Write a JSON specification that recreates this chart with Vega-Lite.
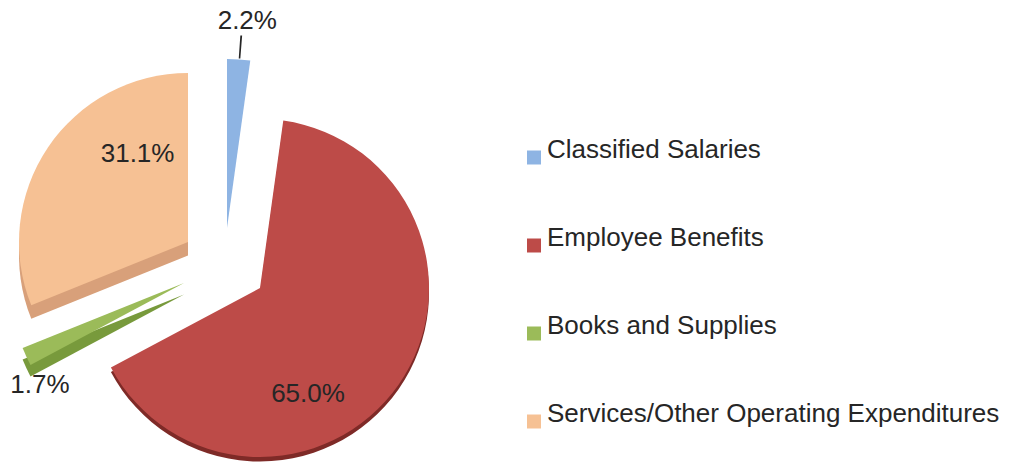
{
  "$schema": "https://vega.github.io/schema/vega-lite/v6.json",
  "width": 460,
  "height": 465,
  "autosize": {"type": "pad"},
  "padding": 0,
  "background": "white",
  "config": {"view": {"stroke": null}, "font": "Liberation Sans"},
  "data": {
    "values": [
      {"category": "Classified Salaries", "pct": 2.2, "order": 1},
      {"category": "Employee Benefits", "pct": 65.0, "order": 2},
      {"category": "Books and Supplies", "pct": 1.7, "order": 3},
      {"category": "Services/Other Operating Expenditures", "pct": 31.1, "order": 4}
    ]
  },
  "transform": [
    {"stack": "pct", "groupby": [], "sort": [{"field": "order", "order": "ascending"}], "as": ["start", "end"]},
    {"calculate": "(datum.start + datum.end) / 2", "as": "mid"},
    {"calculate": "datum.mid + 0.15", "as": "mid2"},
    {"calculate": "format(datum.pct, '.1f') + '%'", "as": "label"}
  ],
  "layer": [
    {
      "transform": [{"filter": "datum.category === 'Employee Benefits'"}],
      "mark": {"type": "arc", "radius": 169, "color": "#7E2A27", "xOffset": 30, "yOffset": 60},
      "encoding": {
        "theta": {"field": "start", "type": "quantitative", "scale": {"domain": [0, 100], "range": [0, 6.283185307179586]}},
        "theta2": {"field": "end"}
      }
    },
    {
      "transform": [{"filter": "datum.category === 'Services/Other Operating Expenditures'"}],
      "mark": {"type": "arc", "radius": 169, "color": "#D8A07A", "xOffset": -42, "yOffset": 23},
      "encoding": {
        "theta": {"field": "start", "type": "quantitative", "scale": {"domain": [0, 100], "range": [0, 6.283185307179586]}},
        "theta2": {"field": "end"}
      }
    },
    {
      "transform": [{"filter": "datum.category === 'Books and Supplies'"}],
      "mark": {"type": "arc", "radius": 174, "color": "#789A3C", "xOffset": -46, "yOffset": 62},
      "encoding": {
        "theta": {"field": "start", "type": "quantitative", "scale": {"domain": [0, 100], "range": [0, 6.283185307179586]}},
        "theta2": {"field": "end"}
      }
    },
    {
      "transform": [{"filter": "datum.category === 'Classified Salaries'"}],
      "mark": {"type": "arc", "radius": 169, "xOffset": -3, "yOffset": -4.5},
      "encoding": {
        "theta": {"field": "start", "type": "quantitative", "scale": {"domain": [0, 100], "range": [0, 6.283185307179586]}},
        "theta2": {"field": "end"},
        "color": {
          "field": "category", "type": "nominal",
          "scale": {"domain": ["Classified Salaries", "Employee Benefits", "Books and Supplies", "Services/Other Operating Expenditures"], "range": ["#8EB4E3", "#BD4B48", "#9BBB59", "#F6C194"]},
          "legend": {"title": null, "orient": "none", "legendX": 521, "legendY": 144.5, "padding": 0, "symbolType": "square", "symbolSize": 196, "symbolStrokeWidth": 0, "symbolOpacity": 1, "labelFontSize": 26, "labelFont": "Liberation Sans", "labelColor": "#262626", "labelOffset": 0, "labelLimit": 600, "rowPadding": 60, "labelBaseline": "alphabetic"}
        }
      }
    },
    {
      "transform": [{"filter": "datum.category === 'Employee Benefits'"}],
      "mark": {"type": "arc", "radius": 169, "xOffset": 30, "yOffset": 55.5},
      "encoding": {
        "theta": {"field": "start", "type": "quantitative", "scale": {"domain": [0, 100], "range": [0, 6.283185307179586]}},
        "theta2": {"field": "end"},
        "color": {"field": "category", "type": "nominal"}
      }
    },
    {
      "transform": [{"filter": "datum.category === 'Books and Supplies'"}],
      "mark": {"type": "arc", "radius": 174, "xOffset": -46, "yOffset": 50.5},
      "encoding": {
        "theta": {"field": "start", "type": "quantitative", "scale": {"domain": [0, 100], "range": [0, 6.283185307179586]}},
        "theta2": {"field": "end"},
        "color": {"field": "category", "type": "nominal"}
      }
    },
    {
      "transform": [{"filter": "datum.category === 'Services/Other Operating Expenditures'"}],
      "mark": {"type": "arc", "radius": 169, "xOffset": -42, "yOffset": 9.5},
      "encoding": {
        "theta": {"field": "start", "type": "quantitative", "scale": {"domain": [0, 100], "range": [0, 6.283185307179586]}},
        "theta2": {"field": "end"},
        "color": {"field": "category", "type": "nominal"}
      }
    },
    {
      "transform": [{"filter": "datum.category === 'Classified Salaries'"}],
      "mark": {"type": "arc", "radius": 193, "radius2": 170, "color": "#262626", "xOffset": -3, "yOffset": -4.5},
      "encoding": {
        "theta": {"field": "mid", "type": "quantitative", "scale": {"domain": [0, 100], "range": [0, 6.283185307179586]}},
        "theta2": {"field": "mid2"}
      }
    },
    {
      "transform": [{"filter": "datum.category === 'Classified Salaries'"}],
      "mark": {"type": "text", "radius": 207, "xOffset": -3, "yOffset": -4.5, "dx": 6, "fontSize": 26, "font": "Liberation Sans", "color": "#262626", "align": "center", "baseline": "middle"},
      "encoding": {
        "theta": {"field": "mid", "type": "quantitative", "scale": {"domain": [0, 100], "range": [0, 6.283185307179586]}},
        "text": {"field": "label"}
      }
    },
    {
      "transform": [{"filter": "datum.category === 'Employee Benefits'"}],
      "mark": {"type": "text", "radius": 100, "xOffset": 30, "yOffset": 55.5, "dx": -34, "dy": 49, "fontSize": 26, "font": "Liberation Sans", "color": "#262626", "align": "center", "baseline": "middle"},
      "encoding": {
        "theta": {"field": "mid", "type": "quantitative", "scale": {"domain": [0, 100], "range": [0, 6.283185307179586]}},
        "text": {"field": "label"}
      }
    },
    {
      "transform": [{"filter": "datum.category === 'Books and Supplies'"}],
      "mark": {"type": "text", "radius": 180, "xOffset": -46, "yOffset": 50.5, "dx": 19, "dy": 26, "fontSize": 26, "font": "Liberation Sans", "color": "#262626", "align": "center", "baseline": "middle"},
      "encoding": {
        "theta": {"field": "mid", "type": "quantitative", "scale": {"domain": [0, 100], "range": [0, 6.283185307179586]}},
        "text": {"field": "label"}
      }
    },
    {
      "transform": [{"filter": "datum.category === 'Services/Other Operating Expenditures'"}],
      "mark": {"type": "text", "radius": 91, "xOffset": -42, "yOffset": 9.5, "dx": 25, "dy": -37, "fontSize": 26, "font": "Liberation Sans", "color": "#262626", "align": "center", "baseline": "middle"},
      "encoding": {
        "theta": {"field": "mid", "type": "quantitative", "scale": {"domain": [0, 100], "range": [0, 6.283185307179586]}},
        "text": {"field": "label"}
      }
    }
  ]
}
